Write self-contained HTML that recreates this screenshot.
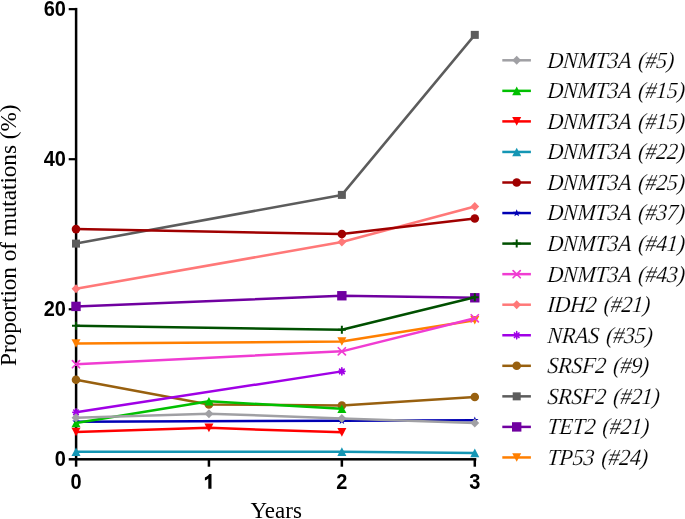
<!DOCTYPE html>
<html><head><meta charset="utf-8"><style>
html,body{margin:0;padding:0;background:#fff;}
svg{display:block;will-change:transform;}

</style></head><body>
<svg width="685" height="519" viewBox="0 0 685 519">
<g fill="#000">
<rect x="74.85" y="7.9" width="2.5" height="458.8"/>
<rect x="68.7" y="458.05" width="407.6" height="2.5"/>
<rect x="68.7" y="308.15" width="7.3999999999999915" height="2.2"/>
<rect x="68.7" y="158.1" width="7.3999999999999915" height="2.2"/>
<rect x="68.7" y="8.049999999999978" width="7.3999999999999915" height="2.2"/>
<rect x="207.68" y="459.3" width="2.5" height="7.399999999999977"/>
<rect x="340.61" y="459.3" width="2.5" height="7.399999999999977"/>
<rect x="473.54" y="459.3" width="2.5" height="7.399999999999977"/>
</g>
<g font-family="&quot;Liberation Sans&quot;, sans-serif" font-weight="bold" font-size="20" fill="#000">
<text transform="translate(65.9,465.80) scale(1,1.09)" text-anchor="end">0</text>
<text transform="translate(65.9,315.75) scale(1,1.09)" text-anchor="end">20</text>
<text transform="translate(65.9,165.70) scale(1,1.09)" text-anchor="end">40</text>
<text transform="translate(65.9,15.65) scale(1,1.09)" text-anchor="end">60</text>
<text transform="translate(76.00,489) scale(1,1.09)" text-anchor="middle">0</text>
<text transform="translate(341.86,489) scale(1,1.09)" text-anchor="middle">2</text>
<text transform="translate(474.79,489) scale(1,1.09)" text-anchor="middle">3</text>
</g>
<path d="M211.5,474 V488.7 H208.3 V478.6 C207.3,479.5 206.2,480.1 204.9,480.5 V477.4 C206.8,476.7 208.4,475.5 209.3,474 Z" fill="#000"/>
<text transform="translate(276.2,517.6) scale(1,1.02)" text-anchor="middle" font-family="&quot;Liberation Serif&quot;, serif" font-size="23">Years</text>
<text transform="translate(16.2,235.3) rotate(-90) scale(1.006,1)" text-anchor="middle" font-family="&quot;Liberation Serif&quot;, serif" font-size="23">Proportion of mutations (%)</text>
<g><path d="M76.00,343.54 L341.86,341.51 L474.79,320.28" stroke="#ff7f00" stroke-width="2.5" fill="none" stroke-linejoin="round"/><polygon points="71.5,339.24 80.5,339.24 76.0,347.84000000000003" fill="#ff7f00"/><polygon points="337.36,337.21 346.36,337.21 341.86,345.81" fill="#ff7f00"/><polygon points="470.29,315.97999999999996 479.29,315.97999999999996 474.79,324.58" fill="#ff7f00"/></g>
<g><path d="M76.00,306.40 L341.86,295.75 L474.79,297.77" stroke="#7000a0" stroke-width="2.5" fill="none" stroke-linejoin="round"/><rect x="71.3" y="301.7" width="9.4" height="9.4" fill="#7000a0"/><rect x="337.16" y="291.05" width="9.4" height="9.4" fill="#7000a0"/><rect x="470.09000000000003" y="293.07" width="9.4" height="9.4" fill="#7000a0"/></g>
<g><path d="M76.00,243.60 L341.86,194.91 L474.79,34.88" stroke="#5c5c5c" stroke-width="2.5" fill="none" stroke-linejoin="round"/><rect x="72.0" y="239.6" width="8.0" height="8.0" fill="#5c5c5c"/><rect x="337.86" y="190.91" width="8.0" height="8.0" fill="#5c5c5c"/><rect x="470.79" y="30.880000000000003" width="8.0" height="8.0" fill="#5c5c5c"/></g>
<g><path d="M76.00,379.70 L208.93,404.53 L341.86,405.43 L474.79,396.95" stroke="#98600f" stroke-width="2.5" fill="none" stroke-linejoin="round"/><circle cx="76.0" cy="379.7" r="4.3" fill="#98600f"/><circle cx="208.93" cy="404.53" r="4.3" fill="#98600f"/><circle cx="341.86" cy="405.43" r="4.3" fill="#98600f"/><circle cx="474.79" cy="396.95" r="4.3" fill="#98600f"/></g>
<g><path d="M76.00,412.33 L341.86,371.37" stroke="#a000e6" stroke-width="2.5" fill="none" stroke-linejoin="round"/><path d="M72.8,412.33H79.2M76.0,408.72999999999996V415.93M73.7,410.03L78.3,414.63M73.7,414.63L78.3,410.03" stroke="#a000e6" stroke-width="1.6" fill="none" stroke-linecap="round"/><path d="M338.66,371.37H345.06M341.86,367.77V374.97M339.56,369.07L344.16,373.67M339.56,373.67L344.16,369.07" stroke="#a000e6" stroke-width="1.6" fill="none" stroke-linecap="round"/></g>
<g><path d="M76.00,288.77 L341.86,242.03 L474.79,206.54" stroke="#ff7878" stroke-width="2.5" fill="none" stroke-linejoin="round"/><polygon points="76.0,284.27 80.4,288.77 76.0,293.27 71.6,288.77" fill="#ff7878"/><polygon points="341.86,237.53 346.26,242.03 341.86,246.53 337.46000000000004,242.03" fill="#ff7878"/><polygon points="474.79,202.04 479.19,206.54 474.79,211.04 470.39000000000004,206.54" fill="#ff7878"/></g>
<g><path d="M76.00,364.17 L341.86,351.34 L474.79,318.33" stroke="#f03cd2" stroke-width="2.5" fill="none" stroke-linejoin="round"/><path d="M72.4,360.57L79.6,367.77000000000004M72.4,367.77000000000004L79.6,360.57" stroke="#f03cd2" stroke-width="1.7" fill="none" stroke-linecap="round"/><path d="M338.26,347.73999999999995L345.46000000000004,354.94M338.26,354.94L345.46000000000004,347.73999999999995" stroke="#f03cd2" stroke-width="1.7" fill="none" stroke-linecap="round"/><path d="M471.19,314.72999999999996L478.39000000000004,321.93M471.19,321.93L478.39000000000004,314.72999999999996" stroke="#f03cd2" stroke-width="1.7" fill="none" stroke-linecap="round"/></g>
<g><path d="M76.00,325.76 L341.86,329.81 L474.79,297.25" stroke="#005000" stroke-width="2.5" fill="none" stroke-linejoin="round"/><path d="M72.0,325.76H80.0M76.0,321.76V329.76" stroke="#005000" stroke-width="2" fill="none"/><path d="M337.86,329.81H345.86M341.86,325.81V333.81" stroke="#005000" stroke-width="2" fill="none"/><path d="M470.79,297.25H478.79M474.79,293.25V301.25" stroke="#005000" stroke-width="2" fill="none"/></g>
<g><path d="M76.00,421.79 L341.86,420.74 L474.79,420.29" stroke="#0000b4" stroke-width="2.5" fill="none" stroke-linejoin="round"/><polygon points="76.00,417.89 77.00,420.41 79.71,420.58 77.62,422.32 78.29,424.95 76.00,423.49 73.71,424.95 74.38,422.32 72.29,420.58 75.00,420.41" fill="#0000b4"/><polygon points="341.86,416.84 342.86,419.36 345.57,419.53 343.48,421.27 344.15,423.90 341.86,422.44 339.57,423.90 340.24,421.27 338.15,419.53 340.86,419.36" fill="#0000b4"/><polygon points="474.79,416.39 475.79,418.91 478.50,419.08 476.41,420.82 477.08,423.45 474.79,421.99 472.50,423.45 473.17,420.82 471.08,419.08 473.79,418.91" fill="#0000b4"/></g>
<g><path d="M76.00,229.12 L341.86,234.00 L474.79,218.47" stroke="#a00000" stroke-width="2.5" fill="none" stroke-linejoin="round"/><circle cx="76.0" cy="229.12" r="4.3" fill="#a00000"/><circle cx="341.86" cy="234.0" r="4.3" fill="#a00000"/><circle cx="474.79" cy="218.47" r="4.3" fill="#a00000"/></g>
<g><path d="M76.00,451.80 L341.86,451.65 L474.79,452.92" stroke="#1496b4" stroke-width="2.5" fill="none" stroke-linejoin="round"/><polygon points="76.0,447.5 80.5,456.1 71.5,456.1" fill="#1496b4"/><polygon points="341.86,447.34999999999997 346.36,455.95 337.36,455.95" fill="#1496b4"/><polygon points="474.79,448.62 479.29,457.22 470.29,457.22" fill="#1496b4"/></g>
<g><path d="M76.00,432.07 L208.93,427.86 L341.86,432.37" stroke="#ff0000" stroke-width="2.5" fill="none" stroke-linejoin="round"/><polygon points="71.5,427.77 80.5,427.77 76.0,436.37" fill="#ff0000"/><polygon points="204.43,423.56 213.43,423.56 208.93,432.16" fill="#ff0000"/><polygon points="337.36,428.07 346.36,428.07 341.86,436.67" fill="#ff0000"/></g>
<g><path d="M76.00,422.99 L208.93,401.23 L341.86,408.73" stroke="#00c000" stroke-width="2.5" fill="none" stroke-linejoin="round"/><polygon points="76.0,418.69 80.5,427.29 71.5,427.29" fill="#00c000"/><polygon points="208.93,396.93 213.43,405.53000000000003 204.43,405.53000000000003" fill="#00c000"/><polygon points="341.86,404.43 346.36,413.03000000000003 337.36,413.03000000000003" fill="#00c000"/></g>
<g><path d="M76.00,417.81 L208.93,413.68 L341.86,418.41 L474.79,422.99" stroke="#a0a0a4" stroke-width="2.5" fill="none" stroke-linejoin="round"/><polygon points="76.0,413.31 80.4,417.81 76.0,422.31 71.6,417.81" fill="#a0a0a4"/><polygon points="208.93,409.18 213.33,413.68 208.93,418.18 204.53,413.68" fill="#a0a0a4"/><polygon points="341.86,413.91 346.26,418.41 341.86,422.91 337.46000000000004,418.41" fill="#a0a0a4"/><polygon points="474.79,418.49 479.19,422.99 474.79,427.49 470.39000000000004,422.99" fill="#a0a0a4"/></g>
<path d="M502.3,60.3H530.9" stroke="#a0a0a4" stroke-width="2.5"/>
<polygon points="516.7,55.8 521.1,60.3 516.7,64.8 512.3000000000001,60.3" fill="#a0a0a4"/>
<text transform="translate(547,67.70) scale(1,1.05) skewX(-5)" font-family="&quot;Liberation Serif&quot;, serif" font-style="italic" font-size="22" letter-spacing="-0.25" word-spacing="2" stroke="#fff" stroke-width="0.15">DNMT3A (#5)</text>
<path d="M502.3,90.85H530.9" stroke="#00c000" stroke-width="2.5"/>
<polygon points="516.7,86.55 521.2,95.14999999999999 512.2,95.14999999999999" fill="#00c000"/>
<text transform="translate(547,98.25) scale(1,1.05) skewX(-5)" font-family="&quot;Liberation Serif&quot;, serif" font-style="italic" font-size="22" letter-spacing="-0.25" word-spacing="2" stroke="#fff" stroke-width="0.15">DNMT3A (#15)</text>
<path d="M502.3,121.4H530.9" stroke="#ff0000" stroke-width="2.5"/>
<polygon points="512.2,117.10000000000001 521.2,117.10000000000001 516.7,125.7" fill="#ff0000"/>
<text transform="translate(547,128.80) scale(1,1.05) skewX(-5)" font-family="&quot;Liberation Serif&quot;, serif" font-style="italic" font-size="22" letter-spacing="-0.25" word-spacing="2" stroke="#fff" stroke-width="0.15">DNMT3A (#15)</text>
<path d="M502.3,151.95H530.9" stroke="#1496b4" stroke-width="2.5"/>
<polygon points="516.7,147.64999999999998 521.2,156.25 512.2,156.25" fill="#1496b4"/>
<text transform="translate(547,159.35) scale(1,1.05) skewX(-5)" font-family="&quot;Liberation Serif&quot;, serif" font-style="italic" font-size="22" letter-spacing="-0.25" word-spacing="2" stroke="#fff" stroke-width="0.15">DNMT3A (#22)</text>
<path d="M502.3,182.5H530.9" stroke="#a00000" stroke-width="2.5"/>
<circle cx="516.7" cy="182.5" r="4.3" fill="#a00000"/>
<text transform="translate(547,189.90) scale(1,1.05) skewX(-5)" font-family="&quot;Liberation Serif&quot;, serif" font-style="italic" font-size="22" letter-spacing="-0.25" word-spacing="2" stroke="#fff" stroke-width="0.15">DNMT3A (#25)</text>
<path d="M502.3,213.05H530.9" stroke="#0000b4" stroke-width="2.5"/>
<polygon points="516.70,209.15 517.70,211.67 520.41,211.84 518.32,213.58 518.99,216.21 516.70,214.75 514.41,216.21 515.08,213.58 512.99,211.84 515.70,211.67" fill="#0000b4"/>
<text transform="translate(547,220.45) scale(1,1.05) skewX(-5)" font-family="&quot;Liberation Serif&quot;, serif" font-style="italic" font-size="22" letter-spacing="-0.25" word-spacing="2" stroke="#fff" stroke-width="0.15">DNMT3A (#37)</text>
<path d="M502.3,243.6H530.9" stroke="#005000" stroke-width="2.5"/>
<path d="M512.7,243.6H520.7M516.7,239.6V247.6" stroke="#005000" stroke-width="2" fill="none"/>
<text transform="translate(547,251.00) scale(1,1.05) skewX(-5)" font-family="&quot;Liberation Serif&quot;, serif" font-style="italic" font-size="22" letter-spacing="-0.25" word-spacing="2" stroke="#fff" stroke-width="0.15">DNMT3A (#41)</text>
<path d="M502.3,274.15H530.9" stroke="#f03cd2" stroke-width="2.5"/>
<path d="M513.1,270.54999999999995L520.3000000000001,277.75M513.1,277.75L520.3000000000001,270.54999999999995" stroke="#f03cd2" stroke-width="1.7" fill="none" stroke-linecap="round"/>
<text transform="translate(547,281.55) scale(1,1.05) skewX(-5)" font-family="&quot;Liberation Serif&quot;, serif" font-style="italic" font-size="22" letter-spacing="-0.25" word-spacing="2" stroke="#fff" stroke-width="0.15">DNMT3A (#43)</text>
<path d="M502.3,304.7H530.9" stroke="#ff7878" stroke-width="2.5"/>
<polygon points="516.7,300.2 521.1,304.7 516.7,309.2 512.3000000000001,304.7" fill="#ff7878"/>
<text transform="translate(547,312.10) scale(1,1.05) skewX(-5)" font-family="&quot;Liberation Serif&quot;, serif" font-style="italic" font-size="22" letter-spacing="-0.25" word-spacing="2" stroke="#fff" stroke-width="0.15">IDH2 (#21)</text>
<path d="M502.3,335.25H530.9" stroke="#a000e6" stroke-width="2.5"/>
<path d="M513.5,335.25H519.9000000000001M516.7,331.65V338.85M514.4000000000001,332.95L519.0,337.55M514.4000000000001,337.55L519.0,332.95" stroke="#a000e6" stroke-width="1.6" fill="none" stroke-linecap="round"/>
<text transform="translate(547,342.65) scale(1,1.05) skewX(-5)" font-family="&quot;Liberation Serif&quot;, serif" font-style="italic" font-size="22" letter-spacing="-0.25" word-spacing="2" stroke="#fff" stroke-width="0.15">NRAS (#35)</text>
<path d="M502.3,365.8H530.9" stroke="#98600f" stroke-width="2.5"/>
<circle cx="516.7" cy="365.8" r="4.3" fill="#98600f"/>
<text transform="translate(547,373.20) scale(1,1.05) skewX(-5)" font-family="&quot;Liberation Serif&quot;, serif" font-style="italic" font-size="22" letter-spacing="-0.25" word-spacing="2" stroke="#fff" stroke-width="0.15">SRSF2 (#9)</text>
<path d="M502.3,396.35H530.9" stroke="#5c5c5c" stroke-width="2.5"/>
<rect x="512.7" y="392.35" width="8.0" height="8.0" fill="#5c5c5c"/>
<text transform="translate(547,403.75) scale(1,1.05) skewX(-5)" font-family="&quot;Liberation Serif&quot;, serif" font-style="italic" font-size="22" letter-spacing="-0.25" word-spacing="2" stroke="#fff" stroke-width="0.15">SRSF2 (#21)</text>
<path d="M502.3,426.9H530.9" stroke="#7000a0" stroke-width="2.5"/>
<rect x="512.0" y="422.2" width="9.4" height="9.4" fill="#7000a0"/>
<text transform="translate(547,434.30) scale(1,1.05) skewX(-5)" font-family="&quot;Liberation Serif&quot;, serif" font-style="italic" font-size="22" letter-spacing="-0.25" word-spacing="2" stroke="#fff" stroke-width="0.15">TET2 (#21)</text>
<path d="M502.3,457.45H530.9" stroke="#ff7f00" stroke-width="2.5"/>
<polygon points="512.2,453.15 521.2,453.15 516.7,461.75" fill="#ff7f00"/>
<text transform="translate(547,464.85) scale(1,1.05) skewX(-5)" font-family="&quot;Liberation Serif&quot;, serif" font-style="italic" font-size="22" letter-spacing="-0.25" word-spacing="2" stroke="#fff" stroke-width="0.15">TP53 (#24)</text>
</svg>
</body></html>
